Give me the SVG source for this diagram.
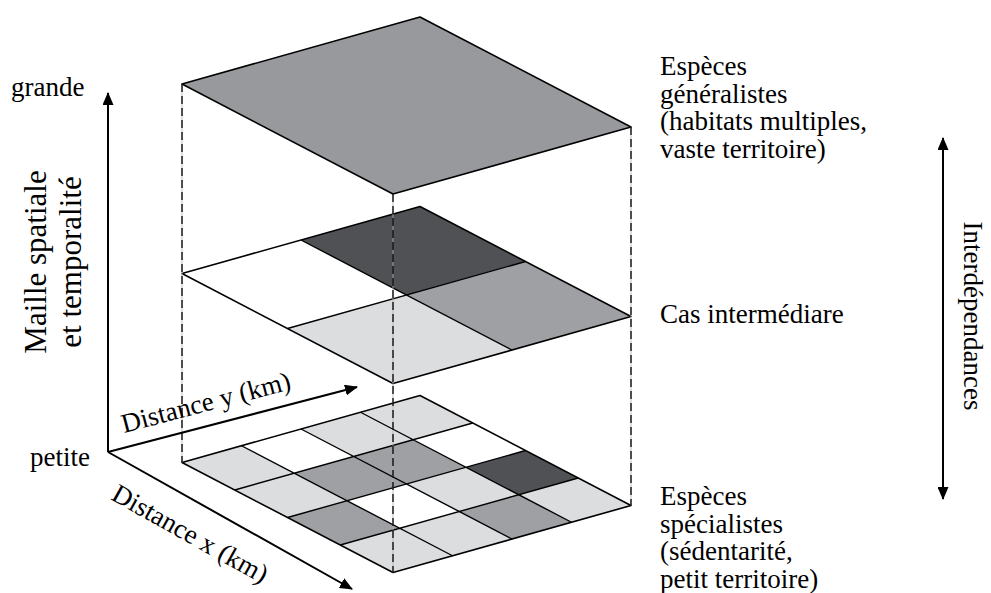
<svg xmlns="http://www.w3.org/2000/svg" width="991" height="593" viewBox="0 0 991 593">
<defs>
<style>
.t{font-family:"Liberation Serif","Times New Roman",serif;font-size:27px;fill:#000}
.edge{fill:none;stroke:#000;stroke-width:1.6;stroke-linejoin:round}
.grid{fill:none;stroke:#000;stroke-width:1.4}
.lt{fill:#dcdddf}
.md{fill:#9ea0a4}
.dk{fill:#505155}
.wh{fill:#fff}
.top{fill:#97999d}
.axis{fill:none;stroke:#000;stroke-width:2}
.dashg{fill:none;stroke:#b0b0b0;stroke-width:0.8}
.dash{fill:none;stroke:#000;stroke-width:1.3;stroke-dasharray:8 4}
</style>
<marker id="ah" markerWidth="13" markerHeight="11" refX="12" refY="5.5" orient="auto-start-reverse" markerUnits="userSpaceOnUse">
<path d="M0,0 L13,5.5 L0,11 z" fill="#000"/>
</marker>
</defs>
<rect width="991" height="593" fill="#fff"/>

<g id="plane-top">
<polygon class="top" points="182,84 420,17 631,127 393,194"/>
<polygon class="edge" points="182,84 420,17 631,127 393,194"/>
</g>

<g id="plane-middle">
<polygon class="wh" points="182,273.5 301,240 406.5,295 287.5,328.5"/>
<polygon class="dk" points="301,240 420,206.5 525.5,261.5 406.5,295"/>
<polygon class="md" points="406.5,295 525.5,261.5 631,316.5 512,350"/>
<polygon class="lt" points="287.5,328.5 406.5,295 512,350 393,383.5"/>
<path class="grid" d="M301,240 L512,350 M287.5,328.5 L525.5,261.5"/>
<polygon class="edge" points="182,273.5 420,206.5 631,316.5 393,383.5"/>
</g>

<g id="plane-bottom">
<polygon class="lt" points="182,462.5 241.5,445.75 294.25,473.25 234.75,490"/>
<polygon class="wh" points="241.5,445.75 301,429 353.75,456.5 294.25,473.25"/>
<polygon class="lt" points="301,429 360.5,412.25 413.25,439.75 353.75,456.5"/>
<polygon class="lt" points="360.5,412.25 420,395.5 472.75,423 413.25,439.75"/>
<polygon class="lt" points="234.75,490 294.25,473.25 347,500.75 287.5,517.5"/>
<polygon class="md" points="294.25,473.25 353.75,456.5 406.5,484 347,500.75"/>
<polygon class="md" points="353.75,456.5 413.25,439.75 466,467.25 406.5,484"/>
<polygon class="wh" points="413.25,439.75 472.75,423 525.5,450.5 466,467.25"/>
<polygon class="md" points="287.5,517.5 347,500.75 399.75,528.25 340.25,545"/>
<polygon class="wh" points="347,500.75 406.5,484 459.25,511.5 399.75,528.25"/>
<polygon class="lt" points="406.5,484 466,467.25 518.75,494.75 459.25,511.5"/>
<polygon class="dk" points="466,467.25 525.5,450.5 578.25,478 518.75,494.75"/>
<polygon class="lt" points="340.25,545 399.75,528.25 452.5,555.75 393,572.5"/>
<polygon class="lt" points="399.75,528.25 459.25,511.5 512,539 452.5,555.75"/>
<polygon class="md" points="459.25,511.5 518.75,494.75 571.5,522.25 512,539"/>
<polygon class="lt" points="518.75,494.75 578.25,478 631,505.5 571.5,522.25"/>
<path class="grid" d="M241.5,445.75 L452.5,555.75 M301,429 L512,539 M360.5,412.25 L571.5,522.25 M234.75,490 L472.75,423 M287.5,517.5 L525.5,450.5 M340.25,545 L578.25,478"/>
<polygon class="edge" points="182,462.5 420,395.5 631,505.5 393,572.5"/>
</g>

<g id="connectors">
<path class="dashg" d="M182,84 V462.5 M393,194 V572.5 M631,127 V505.5"/>
<path class="dash" d="M182,84 V462.5 M393,194 V572.5 M631,127 V505.5"/>
<path class="axis" d="M108,452 V93" marker-end="url(#ah)"/>
<path class="axis" d="M108,452 L357,387" marker-end="url(#ah)"/>
<path class="axis" d="M108,452 L352,589" marker-end="url(#ah)"/>
<path class="axis" d="M943,138 V499" marker-start="url(#ah)" marker-end="url(#ah)"/>
</g>

<g id="labels-axes">
<text class="t" x="11" y="96">grande</text>
<text class="t" x="30" y="466">petite</text>
<text class="t" style="font-size:31px" text-anchor="middle" transform="translate(46,262) rotate(-90)">Maille spatiale</text>
<text class="t" style="font-size:31px" text-anchor="middle" transform="translate(81,262) rotate(-90)">et temporalité</text>
<text class="t" transform="translate(124,433) rotate(-14.7)">Distance y (km)</text>
<text class="t" transform="translate(110,499) rotate(29.2)">Distance x (km)</text>
<text class="t" text-anchor="middle" transform="translate(964,316) rotate(90)">Interdépendances</text>
</g>

<g id="labels-top">
<text class="t" x="660" y="75">Espèces</text>
<text class="t" x="660" y="103">généralistes</text>
<text class="t" x="660" y="130">(habitats multiples,</text>
<text class="t" x="660" y="158">vaste territoire)</text>
</g>
<g id="labels-middle">
<text class="t" x="660" y="323">Cas intermédiare</text>
</g>
<g id="labels-bottom">
<text class="t" x="660" y="505">Espèces</text>
<text class="t" x="660" y="533">spécialistes</text>
<text class="t" x="660" y="560">(sédentarité,</text>
<text class="t" x="660" y="588">petit territoire)</text>
</g>
</svg>
